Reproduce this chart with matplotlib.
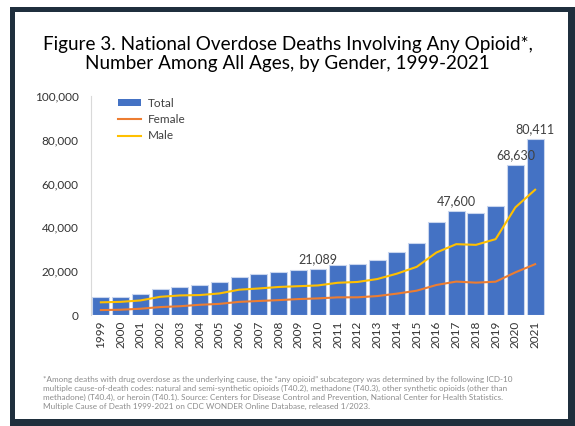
import matplotlib
matplotlib.use('Agg')
import matplotlib.pyplot as plt
from matplotlib.patches import Rectangle, Patch
from matplotlib.lines import Line2D
import numpy as np

plt.rcParams['font.family'] = ['Lato', 'DejaVu Sans']

years = [str(y) for y in range(1999, 2022)]
total = [8050, 8407, 9496, 11920, 12940, 13756, 14918, 17545, 18516, 19582,
         20422, 21089, 22784, 23166, 25052, 28647, 33091, 42249, 47600, 46802,
         49860, 68630, 80411]
female = [2255, 2408, 2851, 3617, 4003, 4657, 5076, 5995, 6402, 6789,
          7271, 7584, 8063, 8078, 8640, 9761, 11103, 13708, 15257, 14770,
          15212, 19476, 23205]
male = [5795, 5999, 6645, 8303, 8937, 9099, 9842, 11550, 12114, 12793,
        13151, 13505, 14721, 15088, 16412, 18886, 21988, 28541, 32343, 32032,
        34648, 49154, 57206]
labelled_years = ['2010', '2017', '2020', '2021']

title = ("Figure 3. National Overdose Deaths Involving Any Opioid*,\n"
         "Number Among All Ages, by Gender, 1999-2021")
footnote = ("*Among deaths with drug overdose as the underlying cause, the \u201cany opioid\u201d subcategory was determined by the following ICD-10\n"
            "multiple cause-of-death codes: natural and semi-synthetic opioids (T40.2), methadone (T40.3), other synthetic opioids (other than\n"
            "methadone) (T40.4), or heroin (T40.1). Source: Centers for Disease Control and Prevention, National Center for Health Statistics.\n"
            "Multiple Cause of Death 1999-2021 on CDC WONDER Online Database, released 1/2023.")

BLUE = '#4472C4'
ORANGE = '#ED7D31'
GOLD = '#FFC000'
TXT = '#404040'

W, H = 575, 426
fig = plt.figure(figsize=(W / 100, H / 100), dpi=100)
fig.patch.set_facecolor('white')

# slide frame: dark border with white panel inside
fig.add_artist(Rectangle((10 / W, 0), 1 - 10 / W, 1 - 7 / H,
                         transform=fig.transFigure, facecolor='#1f2f3d',
                         edgecolor='none', zorder=0))
fig.add_artist(Rectangle((15 / W, 1 - 419 / H), (568 - 15) / W, (419 - 12) / H,
                         transform=fig.transFigure, facecolor='white',
                         edgecolor='none', zorder=0))

fig.text(0.5, 1 - 54 / H, title, ha='center', va='center', fontsize=13.6,
         color='black', linespacing=1.2)

ax = fig.add_axes([91 / W, 1 - 315 / H, (545 - 91) / W, (315 - 96) / H])
ax.set_facecolor('none')
x = np.arange(len(years))
ax.bar(x, total, width=0.86, color=BLUE, edgecolor='#c9d6ee', linewidth=0.8,
       zorder=2)
ax.plot(x, female, color=ORANGE, lw=1.5, zorder=3)
ax.plot(x, male, color=GOLD, lw=1.5, zorder=3)

for yr in labelled_years:
    i = years.index(yr)
    ax.text(i, total[i] + 1500, f'{total[i]:,}', ha='center', va='bottom',
            fontsize=9, color=TXT)

ax.set_xlim(-0.5, len(years) - 0.5)
ax.set_ylim(0, 100000)
ax.set_yticks(range(0, 100001, 20000))
ax.set_yticklabels([f'{v:,}' for v in range(0, 100001, 20000)])
ax.set_xticks(x)
ax.set_xticklabels(years, rotation=90)
ax.tick_params(axis='y', length=0, pad=9, labelsize=8.5, labelcolor='#333333')
ax.tick_params(axis='x', length=0, pad=4, labelsize=8.5, labelcolor='#333333')
for s in ['top', 'right', 'bottom']:
    ax.spines[s].set_visible(False)
ax.spines['left'].set_color('#d9d9d9')
ax.spines['left'].set_linewidth(0.8)

handles = [Patch(facecolor=BLUE, edgecolor='none'),
           Line2D([], [], color=ORANGE, lw=1.5),
           Line2D([], [], color=GOLD, lw=1.5)]
ax.legend(handles, ['Total', 'Female', 'Male'], loc='upper left',
          bbox_to_anchor=(0.035, 1.04), frameon=False, fontsize=8.5,
          labelcolor=TXT, handlelength=2.0, handleheight=0.6,
          labelspacing=0.45, handletextpad=0.6)

fig.text(43 / W, 1 - 393 / H, footnote, ha='left', va='center', fontsize=5.9,
         color='#8c8c8c', linespacing=1.3)

fig.savefig('out.png', dpi=100)
